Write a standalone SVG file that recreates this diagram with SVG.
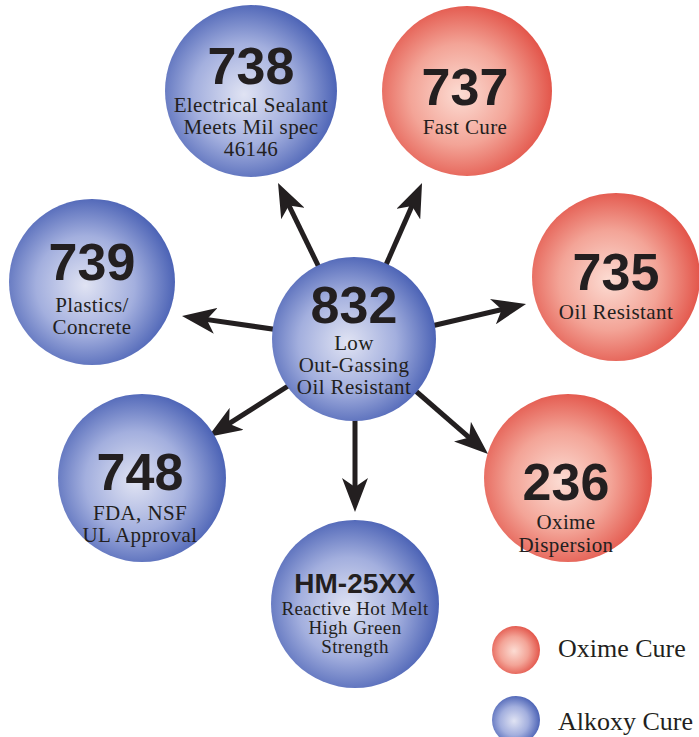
<svg xmlns="http://www.w3.org/2000/svg" width="699" height="737" viewBox="0 0 699 737">
<style>
.num{font-family:"Liberation Sans",Arial,sans-serif;font-weight:bold;font-size:52px;fill:#231f20;text-anchor:middle}
.sub{font-family:"Liberation Serif","Times New Roman",serif;font-size:21px;letter-spacing:0.4px;fill:#231f20;text-anchor:middle}
.hm{font-size:19px}
.leg{font-family:"Liberation Serif","Times New Roman",serif;font-size:26px;fill:#231f20}
.blue{fill:url(#gb)}
.red{fill:url(#gr)}
.conn path{stroke:#231f20;stroke-width:5;fill:none;marker-end:url(#ah)}
</style>
<defs>
<radialGradient id="gb" cx="46%" cy="52%" r="54%">
<stop offset="0" stop-color="#e0e3f3"/>
<stop offset="0.55" stop-color="#a3afde"/>
<stop offset="1" stop-color="#4d64b6"/>
</radialGradient>
<radialGradient id="gr" cx="46%" cy="52%" r="54%">
<stop offset="0" stop-color="#fcdcd3"/>
<stop offset="0.55" stop-color="#f3a497"/>
<stop offset="1" stop-color="#e3564b"/>
</radialGradient>
<marker id="ah" markerUnits="userSpaceOnUse" viewBox="0 0 34 26" refX="24" refY="13" markerWidth="34" markerHeight="26" orient="auto">
<path d="M34,13 L0,0 L9,13 L0,26 Z" fill="#231f20"/>
</marker>
</defs>
<g id="connectors" class="conn">
<path d="M330,290 L282.4,192"/>
<path d="M378,283 L418,192.2"/>
<path d="M300,333 L191.9,317.4"/>
<path d="M410,331 L516.3,306.2"/>
<path d="M310,372 L216.4,431.7"/>
<path d="M395,373 L480.5,447.4"/>
<path d="M355,400 L355,502"/>
</g>
<g id="n832"><circle class="blue" cx="354" cy="339" r="82"/><text class="num" x="354" y="323">832</text><text class="sub" x="354" y="350">Low</text><text class="sub" x="354" y="372">Out-Gassing</text><text class="sub" x="354" y="394">Oil Resistant</text></g>
<g id="n738"><circle class="blue" cx="251" cy="91" r="86"/><text class="num" x="251" y="84">738</text><text class="sub" x="251" y="112">Electrical Sealant</text><text class="sub" x="251" y="134">Meets Mil spec</text><text class="sub" x="251" y="156">46146</text></g>
<g id="n737"><circle class="red" cx="467" cy="91" r="85"/><text class="num" x="465" y="105">737</text><text class="sub" x="465" y="134">Fast Cure</text></g>
<g id="n739"><circle class="blue" cx="92" cy="282" r="83"/><text class="num" x="92" y="280">739</text><text class="sub" x="92" y="312">Plastics/</text><text class="sub" x="92" y="334">Concrete</text></g>
<g id="n735"><circle class="red" cx="616" cy="277" r="84"/><text class="num" x="616" y="290">735</text><text class="sub" x="616" y="319">Oil Resistant</text></g>
<g id="n748"><circle class="blue" cx="142" cy="478" r="84"/><text class="num" x="140" y="490">748</text><text class="sub" x="140" y="520">FDA, NSF</text><text class="sub" x="140" y="542">UL Approval</text></g>
<g id="n236"><circle class="red" cx="568" cy="478" r="84"/><text class="num" x="566" y="500">236</text><text class="sub" x="566" y="529">Oxime</text><text class="sub" x="566" y="552">Dispersion</text></g>
<g id="nHM"><circle class="blue" cx="355" cy="604" r="84"/><text class="num" x="355" y="593" style="font-size:28px">HM-25XX</text><text class="sub hm" x="355" y="615">Reactive Hot Melt</text><text class="sub hm" x="355" y="634">High Green</text><text class="sub hm" x="355" y="653">Strength</text></g>
<g id="legend">
<circle class="red" cx="516" cy="650" r="24"/><text class="leg" x="558" y="657">Oxime Cure</text>
<circle class="blue" cx="516" cy="720" r="24"/><text class="leg" x="558" y="730">Alkoxy Cure</text>
</g>
</svg>
